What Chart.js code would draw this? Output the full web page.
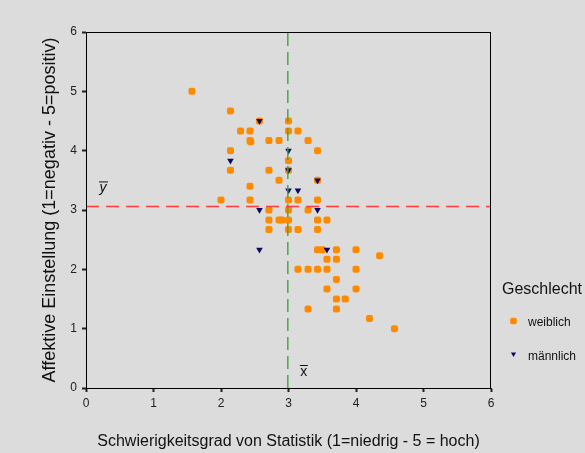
<!DOCTYPE html>
<html lang="de">
<head>
<meta charset="utf-8">
<title>Schwierigkeitsgrad und affektive Einstellung</title>
<script src="https://cdn.jsdelivr.net/npm/chart.js@4/dist/chart.umd.min.js"></script>
<style>
  html, body { margin: 0; padding: 0; background: #dcdcdc; }
  #wrap { width: 585px; height: 453px; }
  canvas { display: block; }
</style>
</head>
<body>
<div id="wrap"><canvas id="chart" width="585" height="453"></canvas></div>
<script>
// Schwierigkeitsgrad (x) und affektive Einstellung (y) je Person
const weiblichX = [1.57, 2.14, 2.57, 3.00, 2.29, 2.43, 3.00, 3.14, 2.43, 2.44, 2.71, 2.86, 3.29,
  2.14, 3.43, 3.00, 2.14, 2.71, 3.00, 2.86, 3.43, 2.43, 2.00, 2.43, 3.00, 3.14, 3.43,
  2.71, 3.00, 3.29, 2.71, 2.86, 2.90, 3.00, 3.43, 3.57, 2.71, 3.00, 3.14, 3.43,
  3.43, 3.50, 3.71, 4.00, 4.35, 3.57, 3.71, 3.14, 3.29, 3.43, 3.57, 4.00,
  3.71, 3.57, 4.00, 3.71, 3.84, 3.29, 3.71, 4.20, 4.57];
const weiblichY = [5.00, 4.67, 4.50, 4.50, 4.33, 4.33, 4.33, 4.33, 4.17, 4.15, 4.17, 4.17, 4.17,
  4.00, 4.00, 3.83, 3.67, 3.67, 3.67, 3.50, 3.50, 3.40, 3.17, 3.17, 3.17, 3.17, 3.17,
  3.00, 3.00, 3.00, 2.83, 2.83, 2.83, 2.83, 2.83, 2.83, 2.67, 2.67, 2.67, 2.67,
  2.33, 2.33, 2.33, 2.33, 2.23, 2.17, 2.17, 2.00, 2.00, 2.00, 2.00, 2.00,
  1.83, 1.67, 1.67, 1.50, 1.50, 1.33, 1.33, 1.17, 1.00];

const maennlichX = [2.57, 3.00, 2.14, 3.00, 3.00, 3.14, 3.43, 2.57, 3.43, 2.57, 3.57];
const maennlichY = [4.50, 4.00, 3.83, 3.67, 3.33, 3.33, 3.50, 3.00, 3.00, 2.33, 2.33];

// Mittelwerte beider Merkmale
const mittelX = 2.99;
const mittelY = 3.06;

// Achsenbereich und Beschriftungen
const achsenTicks = [0, 1, 2, 3, 4, 5, 6];
const gruppen = ['weiblich', 'männlich'];
const legendenTitel = 'Geschlecht';
const titelX = 'Schwierigkeitsgrad von Statistik (1=niedrig - 5 = hoch)';
const titelY = 'Affektive Einstellung (1=negativ - 5=positiv)';

const ORANGE = '#ff8a00';
const NAVY = '#0a0a66';
const FONT = '"Liberation Sans", Arial, sans-serif';

const toPoints = (xs, ys) => xs.map((x, i) => ({ x: x, y: ys[i] }));
const minT = achsenTicks[0];
const maxT = achsenTicks[achsenTicks.length - 1];

// Rahmen, Mittelwert-Symbole und Legende
const extras = {
  id: 'extras',
  afterDraw(chart) {
    const { ctx, chartArea: a, scales } = chart;
    ctx.save();
    ctx.strokeStyle = '#000';
    ctx.lineWidth = 1;
    ctx.strokeRect(a.left + 0.5, a.top + 0.5, a.right - a.left - 1, a.bottom - a.top);

    ctx.fillStyle = '#111';
    ctx.strokeStyle = '#111';
    ctx.textBaseline = 'alphabetic';
    ctx.textAlign = 'center';
    // y-quer
    const yPix = scales.y.getPixelForValue(mittelY);
    const yx = a.left + 17;
    ctx.font = 'italic 14px ' + FONT;
    ctx.fillText('y', yx, yPix - 14);
    ctx.beginPath();
    ctx.moveTo(yx - 4, yPix - 24.5);
    ctx.lineTo(yx + 5, yPix - 24.5);
    ctx.stroke();
    // x-quer
    const xPix = scales.x.getPixelForValue(mittelX);
    const xx = xPix + 16;
    ctx.font = '14px ' + FONT;
    ctx.fillText('x', xx, a.bottom - 12.5);
    ctx.beginPath();
    ctx.moveTo(xx - 4, a.bottom - 22.5);
    ctx.lineTo(xx + 4, a.bottom - 22.5);
    ctx.stroke();

    // Legende
    ctx.textAlign = 'left';
    ctx.textBaseline = 'middle';
    ctx.fillStyle = '#111';
    ctx.font = '16px ' + FONT;
    ctx.fillText(legendenTitel, 502, 290);
    ctx.font = '12px ' + FONT;
    ctx.fillText(gruppen[0], 528, 323);
    ctx.fillText(gruppen[1], 528, 357);
    ctx.fillStyle = ORANGE;
    Chart.helpers.drawPoint(ctx, { pointStyle: 'rectRounded', radius: 3.9, rotation: 0, borderWidth: 0 }, 513.5, 321);
    ctx.fillStyle = NAVY;
    Chart.helpers.drawPoint(ctx, { pointStyle: 'triangle', radius: 3, rotation: 180, borderWidth: 0 }, 513.5, 354);
    ctx.restore();
  }
};

new Chart(document.getElementById('chart'), {
  type: 'scatter',
  data: {
    datasets: [
      {
        label: 'Mittelwert y',
        data: [{ x: minT, y: mittelY }, { x: maxT, y: mittelY }],
        showLine: true,
        borderColor: '#ff3b3b',
        borderWidth: 1.4,
        borderDash: [13, 7],
        pointRadius: 0,
        order: 0
      },
      {
        label: 'Mittelwert x',
        data: [{ x: mittelX, y: minT }, { x: mittelX, y: maxT }],
        showLine: true,
        borderColor: '#3aa83a',
        borderWidth: 1.4,
        borderDash: [13, 6],
        pointRadius: 0,
        order: 0
      },
      {
        label: gruppen[1],
        data: toPoints(maennlichX, maennlichY),
        pointStyle: 'triangle',
        rotation: 180,
        pointRadius: 3.8,
        pointBackgroundColor: NAVY,
        pointBorderWidth: 0,
        order: 1
      },
      {
        label: gruppen[0],
        data: toPoints(weiblichX, weiblichY),
        pointStyle: 'rectRounded',
        pointRadius: 4.1,
        pointBackgroundColor: ORANGE,
        pointBorderWidth: 0,
        order: 2
      }
    ]
  },
  options: {
    responsive: false,
    animation: false,
    layout: { padding: { top: 32, right: 94, left: 0, bottom: 0 } },
    plugins: {
      legend: { display: false },
      tooltip: { enabled: false }
    },
    scales: {
      x: {
        type: 'linear',
        min: minT,
        max: maxT,
        afterBuildTicks(scale) { scale.ticks = achsenTicks.map(v => ({ value: v })); },
        afterFit(scale) { scale.height = 65; },
        grid: { drawOnChartArea: false, drawTicks: true, tickLength: 4, tickWidth: 2, tickColor: '#222' },
        border: { display: true, color: '#000', width: 1 },
        ticks: { color: '#222', padding: 4, font: { family: FONT, size: 12 } },
        title: {
          display: true,
          text: titelX,
          color: '#111',
          font: { family: FONT, size: 16 },
          padding: { top: 0, bottom: 1.5 }
        }
      },
      y: {
        type: 'linear',
        min: minT,
        max: maxT,
        afterBuildTicks(scale) { scale.ticks = achsenTicks.map(v => ({ value: v })); },
        afterFit(scale) { scale.width = 86; },
        grid: { drawOnChartArea: false, drawTicks: true, tickLength: 4, tickWidth: 2, tickColor: '#222' },
        border: { display: true, color: '#000', width: 1 },
        ticks: { color: '#222', padding: 5, font: { family: FONT, size: 12 } },
        title: {
          display: true,
          text: titelY,
          color: '#111',
          font: { family: FONT, size: 18 },
          padding: { top: 39, bottom: 0 }
        }
      }
    }
  },
  plugins: [extras]
});
</script>
</body>
</html>
